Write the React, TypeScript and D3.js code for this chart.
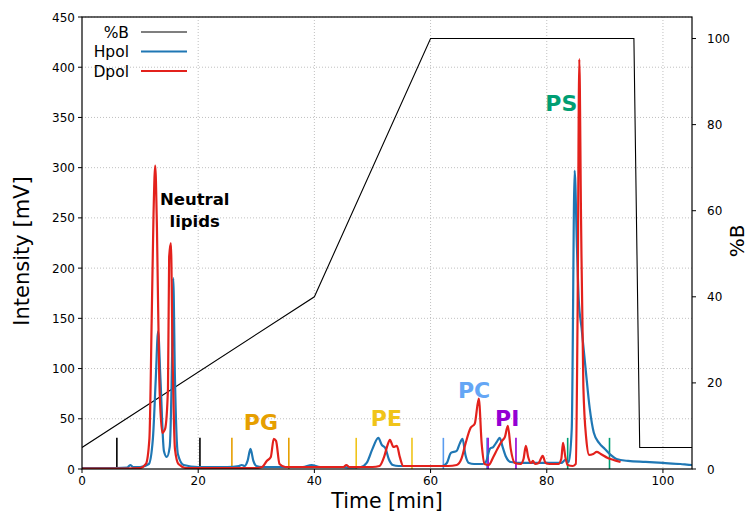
import { useEffect, useRef } from "react";
import * as d3 from "d3";

// gradient program: [time min, %B]
const gradTime = [0, 40, 60, 95, 96, 105];
const gradB = [5, 40, 100, 100, 5, 5];

// Hpol trace (blue): [time, mV]
const hpolTime = [0, 4, 7.8, 8.3, 8.8, 10, 11.5, 12.2, 12.7, 13.1, 13.5, 14.1, 14.6, 15.1, 15.5, 15.7, 16.0, 16.5, 17.5, 20, 25, 27, 27.5, 28, 28.5, 29.0, 29.5, 30, 31, 35, 38, 39.5, 41, 44, 45, 46, 48, 49, 50, 51.0, 51.6, 52.2, 52.8, 53.5, 54.5, 58, 62, 62.8, 63.5, 64.5, 65.0, 65.5, 66.0, 66.6, 67.5, 69, 69.6, 70.2, 70.8, 71.4, 71.9, 72.4, 73.0, 73.8, 76, 80, 82.5, 83.2, 83.8, 84.3, 84.8, 85.2, 85.5, 86.0, 86.7, 87.4, 88.1, 89, 90, 91, 92, 94, 97, 100, 103, 105];
const hpolVal = [1, 1, 1.5, 4, 2, 2, 5, 30, 90, 137, 90, 18, 12, 22, 110, 190, 90, 15, 4, 2, 2, 3, 4, 3, 8, 20, 8, 3, 2, 2, 2, 4, 2, 2, 2, 1.5, 2, 6, 20, 31, 24, 21, 10, 4, 3, 3, 3, 6, 16, 18, 25, 30, 14, 6, 5, 5, 8, 20, 22, 27, 31, 22, 12, 7, 6, 6, 6, 9, 7, 40, 297, 220, 169, 140, 99, 60, 36, 26, 20, 14, 10, 8, 7, 6, 5, 4, 3.5];

// Dpol trace (red)
const dpolTime = [0, 5, 10, 11, 11.6, 12.0, 12.3, 12.6, 12.9, 13.3, 13.8, 14.3, 14.8, 15.0, 15.3, 15.6, 16.0, 16.6, 18, 25, 30, 31, 31.8, 32.5, 33.0, 33.4, 34.0, 35, 40, 45, 45.5, 46, 50, 51.2, 52.0, 52.5, 53.0, 53.6, 54.2, 54.7, 55.3, 58, 63, 64.5, 65.3, 66.0, 66.9, 67.6, 68.3, 68.8, 69.3, 70, 70.8, 71.5, 72.3, 72.8, 73.3, 73.8, 74.5, 75.5, 76.0, 76.4, 76.8, 77.3, 77.6, 78.0, 78.6, 79.3, 79.8, 80.5, 82, 82.5, 82.8, 83.2, 83.6, 84.5, 85.0, 85.3, 85.6, 85.9, 86.3, 86.8, 87.3, 88.0, 88.6, 89.3, 90.5, 91.5, 92.7];
const dpolVal = [0.5, 0.5, 1, 5, 30, 150, 250, 302, 240, 90, 36, 40, 80, 211, 225, 110, 20, 5, 1, 1, 1, 2, 8, 12, 30, 28, 5, 2, 2, 2, 4, 2, 2, 3, 12, 22, 29, 22, 23, 12, 3, 3, 3, 4, 10, 25, 41, 45, 70, 25, 5, 4, 12, 20, 28, 32, 43, 20, 6, 5, 10, 23, 12, 6, 8, 5, 6, 13, 6, 5, 5, 10, 26, 12, 4, 3, 5, 150, 408, 250, 82, 30, 14, 15, 17, 15, 11, 9, 7];

// fraction window markers [time]
const markerGroups = ["NL", "PG", "PE", "PC", "PI", "PS"];
const markerTimes = [[6.0, 20.3], [25.8, 35.6], [47.2, 56.8], [62.2, 69.7], [69.9, 74.7], [83.6, 90.8]];
const markerColors = ["#000000", "#e69f00", "#f0c419", "#5a9cf0", "#9400d3", "#009e73"];

// class labels: [text, time, mV]
const classLabels = ["PG", "PE", "PC", "PI", "PS"];
const classTime = [30.8, 52.4, 67.5, 73.2, 82.5];
const classY = [39, 43, 71, 43, 356];
const classColors = ["#e69f00", "#f0c419", "#64a6f5", "#9400d3", "#009e73"];

const xTicks = [0, 20, 40, 60, 80, 100];
const yTicks = [0, 50, 100, 150, 200, 250, 300, 350, 400, 450];
const y2Ticks = [0, 20, 40, 60, 80, 100];

const W = 748;
const H = 513;
const FONT = "DejaVu Sans, sans-serif";

export default function App() {
  const ref = useRef<SVGSVGElement>(null);

  useEffect(() => {
    const svg = d3.select(ref.current);
    svg.selectAll("*").remove();

    const left = 82;
    const right = 692;
    const top = 17;
    const bottom = 469;

    const x = d3.scaleLinear().domain([0, 105]).range([left, right]);
    const y = d3.scaleLinear().domain([0, 450]).range([bottom, top]);
    const y2 = d3.scaleLinear().domain([0, 105]).range([bottom, top]);

    const defs = svg.append("defs");
    defs.append("clipPath").attr("id", "plot").append("rect")
      .attr("x", left).attr("y", top).attr("width", right - left).attr("height", bottom - top);

    // grid
    const grid = svg.append("g").attr("stroke", "#b0b0b0").attr("stroke-width", 0.8).attr("stroke-dasharray", "1,2");
    xTicks.filter((t) => t > 0).forEach((t) => {
      grid.append("line").attr("x1", x(t)).attr("x2", x(t)).attr("y1", top).attr("y2", bottom);
    });
    yTicks.filter((t) => t > 0).forEach((t) => {
      grid.append("line").attr("x1", left).attr("x2", right).attr("y1", y(t)).attr("y2", y(t));
    });

    const plot = svg.append("g").attr("clip-path", "url(#plot)");

    // %B gradient
    const gradLine = d3.line<number>().x((d, i) => x(gradTime[i])).y((d) => y2(d));
    plot.append("path").attr("d", gradLine(gradB)).attr("fill", "none")
      .attr("stroke", "#000").attr("stroke-width", 1.1);

    // markers
    markerTimes.forEach((pair, gi) => {
      pair.forEach((t) => {
        plot.append("line").attr("x1", x(t)).attr("x2", x(t))
          .attr("y1", y(0)).attr("y2", y(31))
          .attr("stroke", markerColors[gi]).attr("stroke-width", 1.6);
      });
    });

    const trace = d3.line<number>().curve(d3.curveMonotoneX);
    plot.append("path")
      .attr("d", trace(hpolVal.map((v, i) => [x(hpolTime[i]), y(v)] as [number, number]) as any))
      .attr("fill", "none").attr("stroke", "#1f77b4").attr("stroke-width", 2.2)
      .attr("stroke-linejoin", "round");
    plot.append("path")
      .attr("d", trace(dpolVal.map((v, i) => [x(dpolTime[i]), y(v)] as [number, number]) as any))
      .attr("fill", "none").attr("stroke", "#e3211c").attr("stroke-width", 2.2)
      .attr("stroke-linejoin", "round");

    // class labels
    classLabels.forEach((lab, i) => {
      svg.append("text").attr("x", x(classTime[i])).attr("y", y(classY[i]))
        .attr("text-anchor", "middle").attr("font-family", FONT).attr("font-weight", "bold")
        .attr("font-size", 22).attr("fill", classColors[i]).text(lab);
    });
    const nl = svg.append("text").attr("text-anchor", "middle").attr("font-family", FONT)
      .attr("font-weight", "bold").attr("font-size", 16.5).attr("fill", "#000");
    nl.append("tspan").attr("x", x(19.4)).attr("y", y(263)).text("Neutral");
    nl.append("tspan").attr("x", x(19.4)).attr("y", y(241)).text("lipids");

    // frame
    svg.append("rect").attr("x", left).attr("y", top).attr("width", right - left)
      .attr("height", bottom - top).attr("fill", "none").attr("stroke", "#000").attr("stroke-width", 1.2);

    // axes
    const ax = svg.append("g").attr("font-family", FONT).attr("font-size", 12).attr("fill", "#000");
    xTicks.forEach((t) => {
      ax.append("line").attr("x1", x(t)).attr("x2", x(t)).attr("y1", bottom).attr("y2", bottom + 4).attr("stroke", "#000");
      ax.append("text").attr("x", x(t)).attr("y", bottom + 16).attr("text-anchor", "middle").text(t);
    });
    yTicks.forEach((t) => {
      ax.append("line").attr("x1", left - 4).attr("x2", left).attr("y1", y(t)).attr("y2", y(t)).attr("stroke", "#000");
      ax.append("text").attr("x", left - 7).attr("y", y(t) + 4.5).attr("text-anchor", "end").text(t);
    });
    y2Ticks.forEach((t) => {
      ax.append("line").attr("x1", right).attr("x2", right + 4).attr("y1", y2(t)).attr("y2", y2(t)).attr("stroke", "#000");
      ax.append("text").attr("x", right + 15).attr("y", y2(t) + 4.5).attr("text-anchor", "start").text(t);
    });

    svg.append("text").attr("x", (left + right) / 2).attr("y", 508).attr("text-anchor", "middle")
      .attr("font-family", FONT).attr("font-size", 20.5).text("Time [min]");
    svg.append("text").attr("transform", `translate(29,${(top + bottom) / 2 + 8}) rotate(-90)`)
      .attr("text-anchor", "middle").attr("font-family", FONT).attr("font-size", 21).text("Intensity [mV]");
    svg.append("text").attr("transform", `translate(744,${(top + bottom) / 2 - 2}) rotate(-90)`)
      .attr("text-anchor", "middle").attr("font-family", FONT).attr("font-size", 20).text("%B");

    // legend
    const legNames = ["%B", "Hpol", "Dpol"];
    const legColors = ["#000", "#1f77b4", "#e3211c"];
    const legWidths = [1.1, 2.2, 2.2];
    legNames.forEach((n, i) => {
      const ly = 32 + i * 19.5;
      svg.append("text").attr("x", 129).attr("y", ly + 5.5).attr("text-anchor", "end")
        .attr("font-family", FONT).attr("font-size", 15.5).text(n);
      svg.append("line").attr("x1", 141).attr("x2", 187).attr("y1", ly).attr("y2", ly)
        .attr("stroke", legColors[i]).attr("stroke-width", legWidths[i]);
    });
  }, []);

  return (
    <svg ref={ref} width={W} height={H}
      style={{ position: "absolute", left: 0, top: 0, background: "#fff" }} />
  );
}
